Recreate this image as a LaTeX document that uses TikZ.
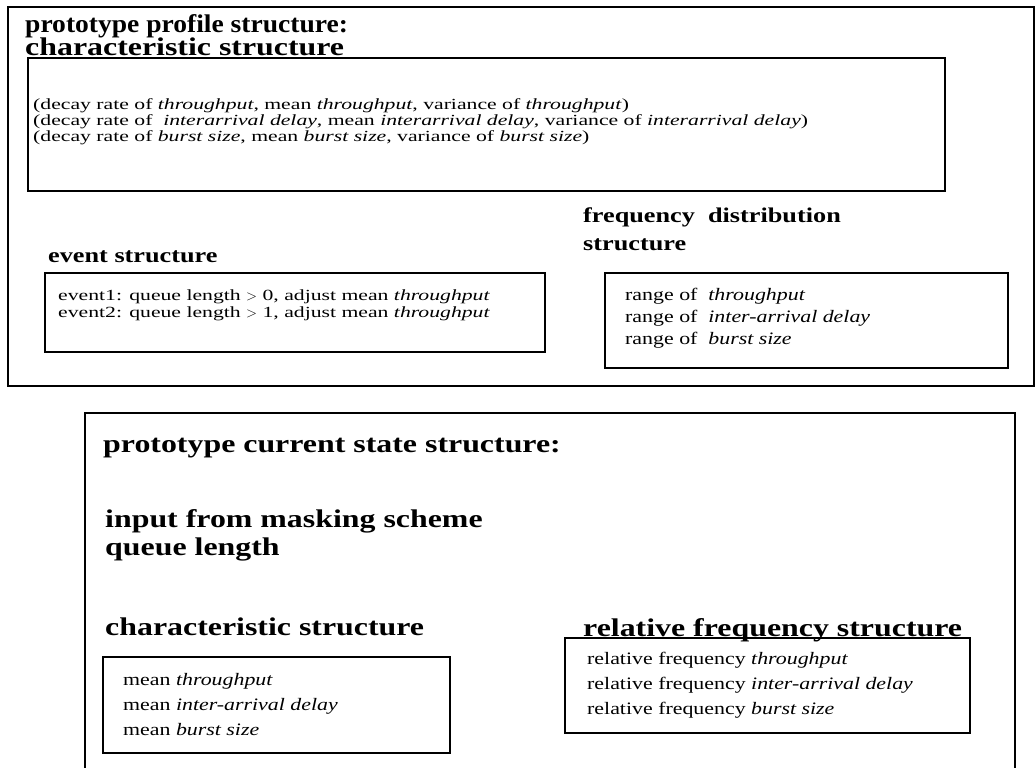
\documentclass[tikz,border=0pt]{standalone}
\usepackage{fontspec}
\setmainfont{Liberation Serif}[FakeStretch=1.25]
\newfontfamily\tightfont{Liberation Serif}[FakeStretch=1.4]
\newfontfamily\narrowfont{Liberation Serif}[FakeStretch=1.08]
\usetikzlibrary{positioning}

\tikzset{
  box/.style={draw=black, line width=1.4pt},
  head/.style={anchor=base west, inner sep=0pt, font=\fontsize{25.5}{27}\selectfont\bfseries},
  narrowhead/.style={anchor=base west, inner sep=0pt, font=\narrowfont\fontsize{25.5}{27}\selectfont\bfseries},
  subhead/.style={anchor=base west, inner sep=0pt, font=\fontsize{21}{23}\selectfont\bfseries},
  entry/.style={anchor=base west, inner sep=0pt, font=\fontsize{17.5}{19}\selectfont},
  smallentry/.style={anchor=base west, inner sep=0pt, font=\tightfont\fontsize{15.5}{16}\selectfont}
}

\begin{document}
\begin{tikzpicture}[x=1pt, y=-1pt]
\useasboundingbox (0,0) rectangle (1036,768);

% upper part: the profile
\draw[box] (8,7) rectangle (1034,386);
\node[narrowhead] (proftitle) at (25,33) {prototype profile structure:};
\node[head] (profchar) at (25,56) {characteristic structure};

\draw[box] (28,58) rectangle (945,191);
\foreach \i/\y/\txt in {
1/109/{(decay rate of \textit{throughput}, mean \textit{throughput}, variance of \textit{throughput})},
2/125/{(decay rate of \ \textit{interarrival delay}, mean \textit{interarrival delay}, variance of \textit{interarrival delay})},
3/141/{(decay rate of \textit{burst size}, mean \textit{burst size}, variance of \textit{burst size})}}
\node[smallentry] (char\i) at (33,\y) {\txt};

% event structure
\node[subhead] (evhead) at (48,262) {event structure};
\draw[box] (45,273) rectangle (545,352);
\node[smallentry] (ev1) at (58,300) {event1: queue length $>$ 0, adjust mean \textit{throughput}};
\node[smallentry] (ev2) at (58,317) {event2: queue length $>$ 1, adjust mean \textit{throughput}};

% frequency distribution
\node[subhead] (fdhead) at (583,222) {frequency\ \ distribution};
\node[subhead] (fdhead2) at (583,250) {structure};
\draw[box] (605,273) rectangle (1008,368);
\foreach \i/\y/\txt in {1/300/throughput, 2/322/inter-arrival delay, 3/344/burst size}
\node[entry] (fd\i) at (625,\y) {range of \ \textit{\txt}};

% lower part: the current state
\draw[box] (85,768) -- (85,413) -- (1015,413) -- (1015,768);
\node[head] (curtitle) at (103,452) {prototype current state structure:};
\node[head] (input) at (105,527) {input from masking scheme};
\node[head] (queue) at (105,555) {queue length};
\node[head] (curchar) at (105,635) {characteristic structure};

\draw[box] (103,657) rectangle (450,753);
\foreach \i/\y/\txt in {1/685/throughput, 2/710/inter-arrival delay, 3/735/burst size}
\node[entry] (mean\i) at (123,\y) {mean \textit{\txt}};

\draw[box] (565,638) rectangle (970,733);
\node[head] (relhead) at (583,636) {relative frequency structure};
\foreach \i/\y/\txt in {1/664/throughput, 2/689/inter-arrival delay, 3/714/burst size}
\node[entry] (rel\i) at (587,\y) {relative frequency \textit{\txt}};
\end{tikzpicture}
\end{document}
